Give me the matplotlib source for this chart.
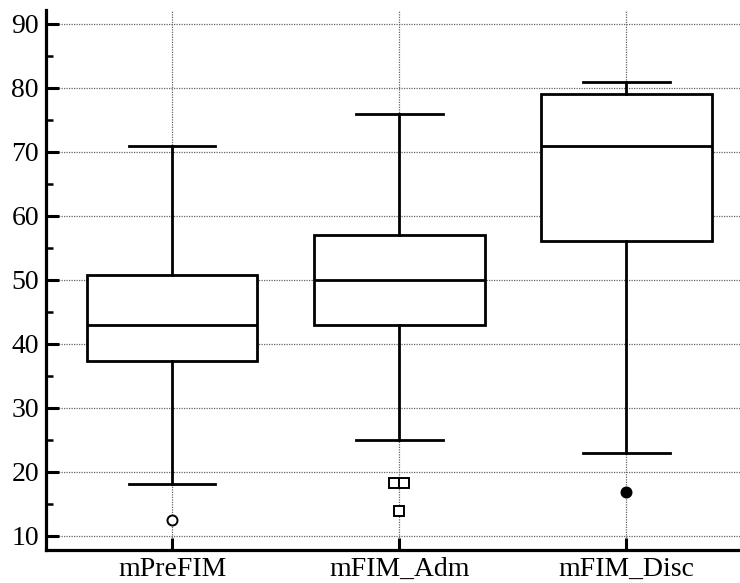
import matplotlib
matplotlib.use("Agg")
import matplotlib.pyplot as plt
from matplotlib.ticker import MultipleLocator

categories = ["mPreFIM", "mFIM_Adm", "mFIM_Disc"]
q1 = [37.3, 43.0, 56.0]
median = [43.0, 50.0, 71.0]
q3 = [50.8, 57.0, 79.0]
whisker_low = [18.1, 25.0, 23.0]
whisker_high = [71.0, 76.0, 81.0]
outliers = [[12.5], [18.2, 18.2, 13.8], [16.8]]
outlier_offsets = [[0.0], [-0.022, 0.022, 0.0], [0.0]]

plt.rcParams['font.family'] = ['Liberation Serif', 'DejaVu Serif']

fig = plt.figure(figsize=(7.4, 5.83), dpi=100)
ax = fig.add_axes([0.062, 0.057, 0.938, 0.926])

stats = []
for i, c in enumerate(categories):
    stats.append(dict(label=c, q1=q1[i], med=median[i], q3=q3[i],
                      whislo=whisker_low[i], whishi=whisker_high[i], fliers=[]))

positions = [1, 2, 3]
lw = 2.0
ax.bxp(stats, positions=positions, widths=0.75, showfliers=False,
       patch_artist=True,
       boxprops=dict(facecolor='white', edgecolor='black', linewidth=lw),
       medianprops=dict(color='black', linewidth=lw),
       whiskerprops=dict(color='black', linewidth=lw),
       capprops=dict(color='black', linewidth=lw),
       capwidths=0.38, zorder=3)

markers = [dict(marker='o', mfc='white', mec='black'),
           dict(marker='s', mfc='white', mec='black'),
           dict(marker='o', mfc='black', mec='black')]
for i, vals in enumerate(outliers):
    xs = [positions[i] + o for o in outlier_offsets[i]]
    ax.plot(xs, vals, linestyle='none', markersize=7.2, mew=1.4, zorder=4, **markers[i])

ax.set_xlim(0.443, 3.5)
ax.set_ylim(7.8, 92.2)
ax.yaxis.set_major_locator(MultipleLocator(10))
ax.yaxis.set_minor_locator(MultipleLocator(5))
ax.set_xticks(positions)
ax.set_xticklabels(categories)

ax.grid(True, which='major', linestyle=(0, (1, 1)), color='#666666', linewidth=0.9, zorder=0)
ax.set_axisbelow(True)

for s in ['top', 'right']:
    ax.spines[s].set_visible(False)
for s in ['left', 'bottom']:
    ax.spines[s].set_linewidth(2.3)

ax.tick_params(axis='both', which='major', direction='in', length=9, width=2.2, labelsize=20, pad=5)
ax.tick_params(axis='y', which='minor', direction='in', length=5, width=1.8)
ax.tick_params(axis='x', which='minor', bottom=False)

fig.savefig("out.png", dpi=100)
